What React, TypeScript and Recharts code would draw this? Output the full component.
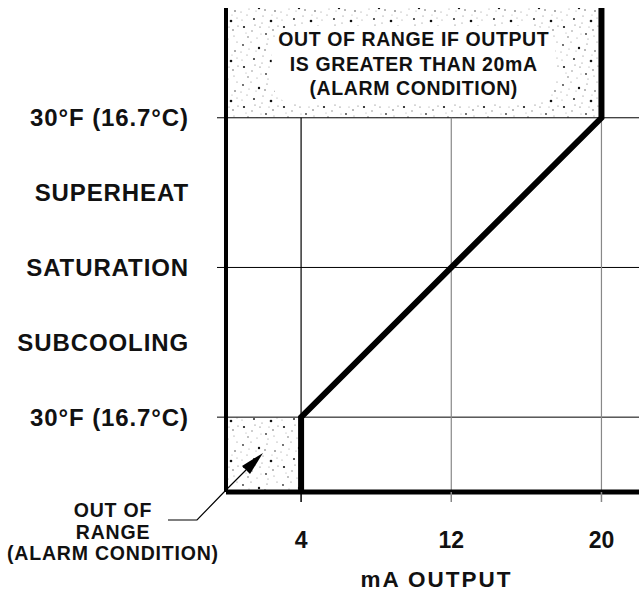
import React from 'react';
import { LineChart, Line, XAxis, YAxis, ReferenceLine, ReferenceArea } from 'recharts';

// transfer curve: mA output vs. superheat / subcooling
const mA = [4, 4, 20, 20];
const degF = [-45, -30, 30, 52];

const yTicks = [30, 15, 0, -15, -30];
const yLabels = ['30°F (16.7°C)', 'SUPERHEAT', 'SATURATION', 'SUBCOOLING', '30°F (16.7°C)'];
const xTicks = [4, 12, 20];
const gridY = [30, 0, -30];
const gridX = [4, 12, 20];
const gridXColor = ['#000', '#888', '#888'];

const topNote = ['OUT OF RANGE IF OUTPUT', 'IS GREATER THAN 20mA', '(ALARM CONDITION)'];
const lowNote = ['OUT OF', 'RANGE', '(ALARM CONDITION)'];

const FONT = "'Liberation Sans', Arial, Helvetica, sans-serif";

// speckle texture tile (x, y, r, colour)
const speckles: [number, number, number, string][] = [
  [3, 5, 0.9, '#333'], [11, 2, 0.6, '#777'], [19, 8, 1.2, '#111'], [27, 4, 0.6, '#666'],
  [35, 11, 0.8, '#444'], [7, 15, 0.6, '#888'], [14, 19, 1.0, '#222'], [23, 16, 0.6, '#777'],
  [31, 21, 1.3, '#111'], [38, 26, 0.6, '#666'], [4, 27, 1.1, '#111'], [12, 31, 0.7, '#777'],
  [20, 27, 0.6, '#555'], [26, 34, 0.9, '#333'], [34, 36, 0.6, '#888'], [8, 37, 0.7, '#555'],
  [17, 38, 0.6, '#999'], [29, 27, 0.6, '#999'], [2, 20, 0.6, '#999'], [37, 2, 0.6, '#888'],
  [22, 23, 0.5, '#666'], [16, 11, 0.5, '#888'], [32, 15, 0.5, '#999'], [9, 9, 0.5, '#888'],
  [25, 10, 0.7, '#444'], [37, 18, 0.5, '#888'], [6, 33, 0.5, '#999'], [15, 25, 0.6, '#666'],
  [33, 30, 0.7, '#444'], [21, 34, 0.5, '#999'], [28, 39, 0.5, '#777'], [1, 12, 0.5, '#777'],
];

const data = mA.map((x, i) => ({ mA: x, degF: degF[i] }));

const YTick = (p: any) => {
  const v = p.payload.value;
  const i = yTicks.indexOf(v);
  return (
    <g>
      {gridY.includes(v) && (
        <line x1={p.x + 28} x2={p.x + 37} y1={p.y} y2={p.y} stroke="#000" strokeWidth={1} />
      )}
      <text x={p.x} y={p.y} textAnchor="end" dominantBaseline="central" fontFamily={FONT}
        fontWeight="bold" fontSize={24} letterSpacing={0.9} fill="#111">
        {yLabels[i]}
      </text>
    </g>
  );
};

const XTick = (p: any) => {
  const v = p.payload.value;
  const i = gridX.indexOf(v);
  return (
    <g>
      <line x1={p.x} x2={p.x} y1={p.y - 10} y2={p.y} stroke={i >= 0 ? gridXColor[i] : '#000'}
        strokeWidth={1.5} />
      <text x={p.x} y={p.y + 38} textAnchor="middle" dominantBaseline="central" fontFamily={FONT}
        fontWeight="bold" fontSize={23} fill="#111">
        {v}
      </text>
    </g>
  );
};

const TopNote = (p: any) => {
  const vb = p.viewBox;
  const cx = vb.x + vb.width / 2;
  return (
    <g>
      <defs>
        <pattern id="speckle" width={40} height={40} patternUnits="userSpaceOnUse">
          <rect width={40} height={40} fill="#fff" />
          {speckles.map(([x, y, r, c], k) => (
            <circle key={k} cx={x} cy={y} r={r} fill={c} />
          ))}
        </pattern>
      </defs>
      <rect x={cx - 142} y={vb.y + 18} width={284} height={78} rx={24} fill="#fff" />
      {topNote.map((t, k) => (
        <text key={k} x={cx} y={vb.y + 31 + k * 24.5} textAnchor="middle" dominantBaseline="central"
          fontFamily={FONT} fontWeight="bold" fontSize={19.5} letterSpacing={0.6} fill="#111">
          {t}
        </text>
      ))}
    </g>
  );
};

const LowNote = (p: any) => {
  const vb = p.viewBox;
  const x0 = vb.x;
  const y0 = vb.y + vb.height - 2;
  const tip = [x0 + 37, y0 - 37];
  const base = [tip[0] - 17, tip[1] + 17];
  return (
    <g>
      <polyline points={`${x0 - 58},${y0 + 30} ${x0 - 29},${y0 + 30} ${x0},${y0} ${base[0]},${base[1]}`}
        fill="none" stroke="#000" strokeWidth={1.2} />
      <polygon
        points={`${tip[0]},${tip[1]} ${base[0] + 4},${base[1] + 4} ${base[0] - 4},${base[1] - 4}`}
        fill="#000" />
      {lowNote.map((t, k) => (
        <text key={k} x={x0 - 113} y={y0 + 20 + k * 21.5} textAnchor="middle" dominantBaseline="central"
          fontFamily={FONT} fontWeight="bold" fontSize={19.5} letterSpacing={0.8} fill="#111">
          {t}
        </text>
      ))}
    </g>
  );
};

const AxisTitle = (p: any) => {
  const vb = p.viewBox;
  return (
    <text x={vb.x + vb.width / 2 + 4} y={vb.y + 87} textAnchor="middle" dominantBaseline="central"
      fontFamily={FONT} fontWeight="bold" fontSize={22.5} letterSpacing={2} fill="#111">
      mA OUTPUT
    </text>
  );
};

export default function App() {
  return (
    <div style={{ position: 'absolute', left: 0, top: 0, width: 639, height: 594, background: '#fff' }}>
      <LineChart width={639} height={594} data={data} margin={{ top: 8, right: 0, bottom: 0, left: 0 }}>
        <XAxis dataKey="mA" type="number" domain={[0, 22]} ticks={xTicks} height={102}
          axisLine={{ stroke: '#000', strokeWidth: 5 }} tickLine={false} tickSize={10} tickMargin={0}
          tick={<XTick />} interval={0} label={<AxisTitle />} />
        <YAxis type="number" domain={[-45, 52]} ticks={yTicks} width={226} interval={0}
          axisLine={{ stroke: '#000', strokeWidth: 4 }} tickLine={false} tickSize={9} tickMargin={28}
          tick={<YTick />} />
        <ReferenceArea x1={0} x2={20} y1={30} y2={52} fill="url(#speckle)" fillOpacity={1}
          stroke="none" label={<TopNote />} />
        <ReferenceArea x1={0} x2={4} y1={-45} y2={-30} fill="url(#speckle)" fillOpacity={1}
          stroke="none" label={<LowNote />} />
        {gridY.map((v) => (
          <ReferenceLine key={'h' + v} y={v} stroke="#000" strokeWidth={1} />
        ))}
        {gridX.map((v, i) => (
          <ReferenceLine key={'v' + v} segment={[{ x: v, y: -45 }, { x: v, y: 30 }]}
            stroke={gridXColor[i]} strokeWidth={1.2} />
        ))}
        <Line dataKey="degF" type="linear" stroke="#000" strokeWidth={6} dot={false}
          isAnimationActive={false} strokeLinejoin="miter" />
      </LineChart>
    </div>
  );
}
